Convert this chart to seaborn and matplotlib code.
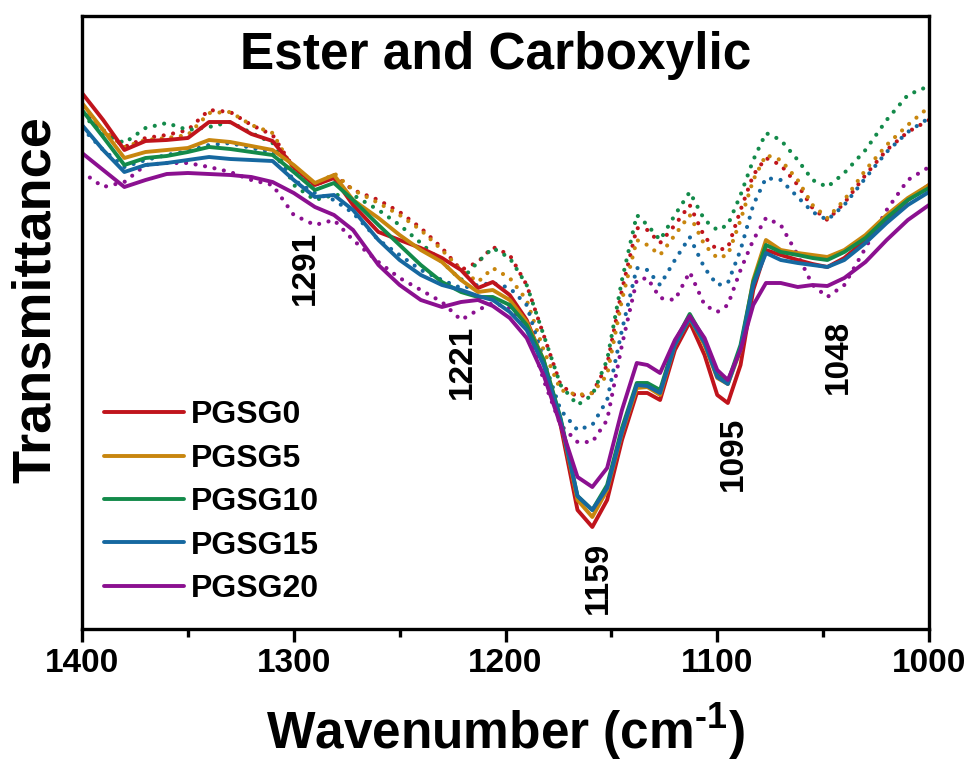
import numpy as np
import pandas as pd
import matplotlib
matplotlib.use("Agg")
import matplotlib.pyplot as plt
import seaborn as sns

# wavenumber grid (cm-1)
wavenumber = [1400, 1390, 1380, 1370, 1360, 1350, 1340, 1330, 1320, 1310,
              1300, 1290, 1281, 1272, 1260, 1250, 1240, 1230, 1221, 1213,
              1206, 1198, 1190, 1182, 1174, 1166, 1159, 1152, 1145, 1138,
              1133, 1127, 1120, 1113, 1106, 1100, 1095, 1089, 1083, 1077,
              1070, 1062, 1055, 1048, 1040, 1030, 1020, 1010, 1000]

samples = ["PGSG0", "PGSG5", "PGSG10", "PGSG15", "PGSG20"]

# solid curves (transmittance, a.u.)
solid_pgsg0 = [60.7, 58.0, 55.0, 55.9, 56.0, 56.2, 57.8, 57.8, 56.6, 55.9,
               53.3, 51.5, 52.2, 49.5, 46.8, 46.0, 45.2, 44.2, 43.0, 41.2,
               41.8, 40.5, 38.0, 33.8, 27.5, 19.0, 17.3, 20.0, 26.0, 30.7,
               30.7, 30.0, 35.0, 37.8, 34.5, 30.5, 29.7, 33.5, 41.0, 45.0,
               44.5, 44.0, 43.6, 43.3, 44.2, 46.0, 48.0, 50.0, 51.5]
solid_pgsg5 = [59.7, 57.0, 54.2, 54.8, 55.0, 55.2, 56.0, 55.8, 55.4, 55.0,
               53.5, 51.7, 52.5, 50.0, 48.2, 46.5, 45.0, 43.8, 42.0, 40.8,
               41.0, 40.0, 37.8, 34.0, 28.0, 20.0, 18.3, 21.0, 26.7, 31.2,
               31.3, 30.5, 35.5, 38.2, 35.5, 32.2, 31.6, 35.0, 42.0, 46.0,
               45.0, 44.7, 44.5, 44.3, 45.0, 46.5, 48.5, 50.2, 51.5]
solid_pgsg10 = [59.0, 56.3, 53.5, 54.2, 54.4, 54.8, 55.3, 55.1, 54.8, 54.5,
                52.8, 51.0, 51.7, 50.0, 47.5, 45.5, 43.5, 41.8, 40.8, 40.3,
                40.3, 39.5, 37.5, 34.0, 28.2, 20.4, 19.0, 21.5, 27.2, 31.7,
                31.7, 31.0, 35.8, 38.6, 36.0, 32.5, 31.8, 35.5, 41.8, 45.5,
                44.8, 44.5, 44.2, 44.0, 44.8, 46.2, 48.2, 50.0, 51.2]
solid_pgsg15 = [57.5, 55.0, 52.8, 53.5, 53.7, 54.0, 54.3, 54.1, 54.0, 53.9,
                52.0, 50.3, 50.5, 49.0, 46.0, 44.0, 42.5, 41.5, 41.0, 40.4,
                40.0, 38.8, 37.0, 33.5, 28.0, 20.4, 19.0, 21.2, 26.8, 31.5,
                31.4, 30.7, 35.5, 38.2, 35.7, 32.3, 31.6, 35.2, 41.5, 44.7,
                44.0, 43.7, 43.5, 43.3, 44.0, 45.7, 47.7, 49.5, 50.8]
solid_pgsg20 = [54.7, 53.0, 51.3, 52.0, 52.6, 52.7, 52.6, 52.5, 52.3, 51.8,
                50.7, 49.3, 48.5, 47.0, 43.5, 41.5, 40.0, 39.3, 39.8, 40.0,
                39.4, 38.2, 36.2, 32.5, 27.5, 22.3, 21.3, 23.2, 29.0, 33.7,
                33.5, 32.7, 36.0, 38.4, 36.2, 33.0, 32.0, 35.0, 39.5, 41.7,
                41.7, 41.3, 41.5, 41.4, 42.2, 43.8, 46.0, 48.0, 49.5]

# dotted curves (transmittance, a.u.)
dot_pgsg0 = [58.8, 57.0, 55.3, 56.2, 56.5, 57.0, 59.0, 58.8, 57.5, 56.5,
             53.2, 51.5, 52.5, 51.0, 50.0, 48.8, 47.2, 45.2, 43.0, 43.8,
             45.3, 44.5, 41.5, 36.5, 31.5, 30.3, 30.7, 33.5, 41.0, 47.2,
             47.0, 45.7, 47.5, 49.5, 46.3, 45.0, 45.2, 49.0, 52.5, 54.2,
             53.5, 51.5, 49.2, 48.0, 49.7, 52.5, 55.0, 56.8, 58.0]
dot_pgsg5 = [59.2, 57.0, 55.3, 56.0, 56.2, 56.5, 58.7, 58.8, 57.5, 56.7,
             53.0, 51.3, 52.7, 51.0, 49.7, 48.5, 47.0, 45.0, 43.0, 41.8,
             43.2, 42.2, 40.0, 35.0, 31.0, 30.5, 30.7, 32.5, 40.0, 46.0,
             45.5, 44.5, 46.5, 48.5, 45.5, 44.2, 44.5, 48.0, 52.0, 54.5,
             54.0, 52.0, 49.5, 48.2, 50.0, 53.0, 55.5, 57.5, 59.3]
dot_pgsg10 = [58.5, 56.7, 55.7, 57.2, 57.7, 57.0, 57.3, 57.8, 56.7, 55.7,
              51.5, 50.0, 50.5, 50.5, 49.0, 47.5, 45.7, 43.8, 42.0, 43.8,
              45.2, 44.2, 41.5, 36.5, 31.5, 29.5, 30.5, 34.0, 42.0, 48.5,
              47.5, 46.0, 48.5, 50.8, 48.0, 47.0, 47.5, 50.5, 54.0, 56.7,
              56.0, 54.0, 52.0, 51.3, 52.7, 55.0, 58.0, 60.5, 61.4]
dot_pgsg15 = [57.2, 55.0, 53.3, 54.0, 54.5, 54.9, 55.5, 55.7, 55.2, 54.8,
              52.0, 50.7, 50.0, 48.7, 46.0, 44.5, 43.0, 42.0, 41.2, 41.5,
              41.7, 41.2, 39.5, 34.0, 29.0, 27.0, 27.5, 30.0, 37.0, 43.2,
              43.0, 41.5, 44.0, 46.3, 43.2, 41.5, 41.7, 45.0, 49.5, 52.2,
              52.0, 50.3, 48.8, 48.0, 49.5, 52.2, 54.8, 56.8, 58.2]
dot_pgsg20 = [52.8, 51.3, 51.8, 53.5, 53.7, 53.7, 53.3, 52.8, 52.0, 51.5,
              48.5, 47.5, 48.0, 46.0, 43.8, 42.2, 41.0, 39.8, 38.0, 39.0,
              39.7, 39.2, 37.5, 32.0, 27.5, 25.8, 25.8, 28.0, 35.5, 42.0,
              42.2, 40.2, 40.0, 42.8, 39.5, 38.8, 39.5, 43.0, 46.0, 48.2,
              47.5, 44.5, 41.5, 40.3, 41.5, 45.2, 49.0, 52.0, 53.3]

# band labels
peak_labels = ["1291", "1221", "1159", "1095", "1048"]
peak_label_x = [1294.5, 1220.5, 1156, 1092.5, 1043]
peak_label_y = [43.2, 33.8, 12.2, 24.6, 34.3]

colors = ["#C0141C", "#C8860E", "#138A4A", "#1668A0", "#8B1090"]

solid = [solid_pgsg0, solid_pgsg5, solid_pgsg10, solid_pgsg15, solid_pgsg20]
dotted = [dot_pgsg0, dot_pgsg5, dot_pgsg10, dot_pgsg15, dot_pgsg20]

sns.set_style("ticks")
plt.rcParams["font.family"] = ["Liberation Sans", "DejaVu Sans"]
plt.rcParams["font.weight"] = "bold"
plt.rcParams["text.color"] = "black"
plt.rcParams["axes.labelcolor"] = "black"
plt.rcParams["axes.edgecolor"] = "black"
plt.rcParams["xtick.color"] = "black"
plt.rcParams["mathtext.fontset"] = "custom"
plt.rcParams["mathtext.rm"] = "Liberation Sans:bold"
plt.rcParams["mathtext.bf"] = "Liberation Sans:bold"

fig = plt.figure(figsize=(9.71, 7.65), dpi=100)
ax = fig.add_axes([82 / 971, 1 - 629 / 765, (929 - 82) / 971, (629 - 16) / 765])

# dotted first so the solid lines sit on top
for name, vals, col in zip(samples, dotted, colors):
    df = pd.DataFrame({"wn": wavenumber, "T": vals})
    sns.lineplot(data=df, x="wn", y="T", ax=ax, color=col, lw=3.0, sort=False,
                 linestyle=(0, (0.01, 2.3)), dash_capstyle="round", legend=False)
for name, vals, col in zip(samples, solid, colors):
    df = pd.DataFrame({"wn": wavenumber, "T": vals})
    sns.lineplot(data=df, x="wn", y="T", ax=ax, color=col, lw=2.8, sort=False,
                 label=name, solid_capstyle="round", solid_joinstyle="round")

for lab, x, y in zip(peak_labels, peak_label_x, peak_label_y):
    ax.text(x, y, lab, rotation=90, ha="center", va="center",
            fontsize=24, fontweight="bold")

ax.set_xlim(1400, 1000)
ax.set_ylim(7.1, 68.4)
ax.set_xticks([1400, 1300, 1200, 1100, 1000])
ax.set_xticks([1350, 1250, 1150, 1050], minor=True)
ax.set_yticks([])
ax.tick_params(axis="x", which="major", direction="out", length=9, width=2.4,
               labelsize=24, pad=5)
ax.tick_params(axis="x", which="minor", direction="out", length=6, width=2.4)
for lbl in ax.get_xticklabels():
    lbl.set_fontweight("bold")
for sp in ax.spines.values():
    sp.set_linewidth(2.4)
    sp.set_visible(True)
    sp.set_color("black")

ax.set_xlabel("Wavenumber (cm$^{\\text{-}1}$)", fontsize=37, fontweight="bold", labelpad=16)
ax.set_ylabel("Transmittance", fontsize=39, fontweight="bold")
ax.yaxis.set_label_coords(-0.025, 0.537)
ax.text(0.488, 0.935, "Ester and Carboxylic", transform=ax.transAxes, ha="center",
        va="center", fontsize=37, fontweight="bold")

leg = ax.legend(loc="lower left", bbox_to_anchor=(0.011, 0.02), frameon=False,
                fontsize=23, handlelength=2.5, handletextpad=0.22, labelspacing=0.42,
                borderaxespad=0)
for t in leg.get_texts():
    t.set_fontweight("bold")
    t.set_color("black")

fig.savefig("out.png", dpi=100)
